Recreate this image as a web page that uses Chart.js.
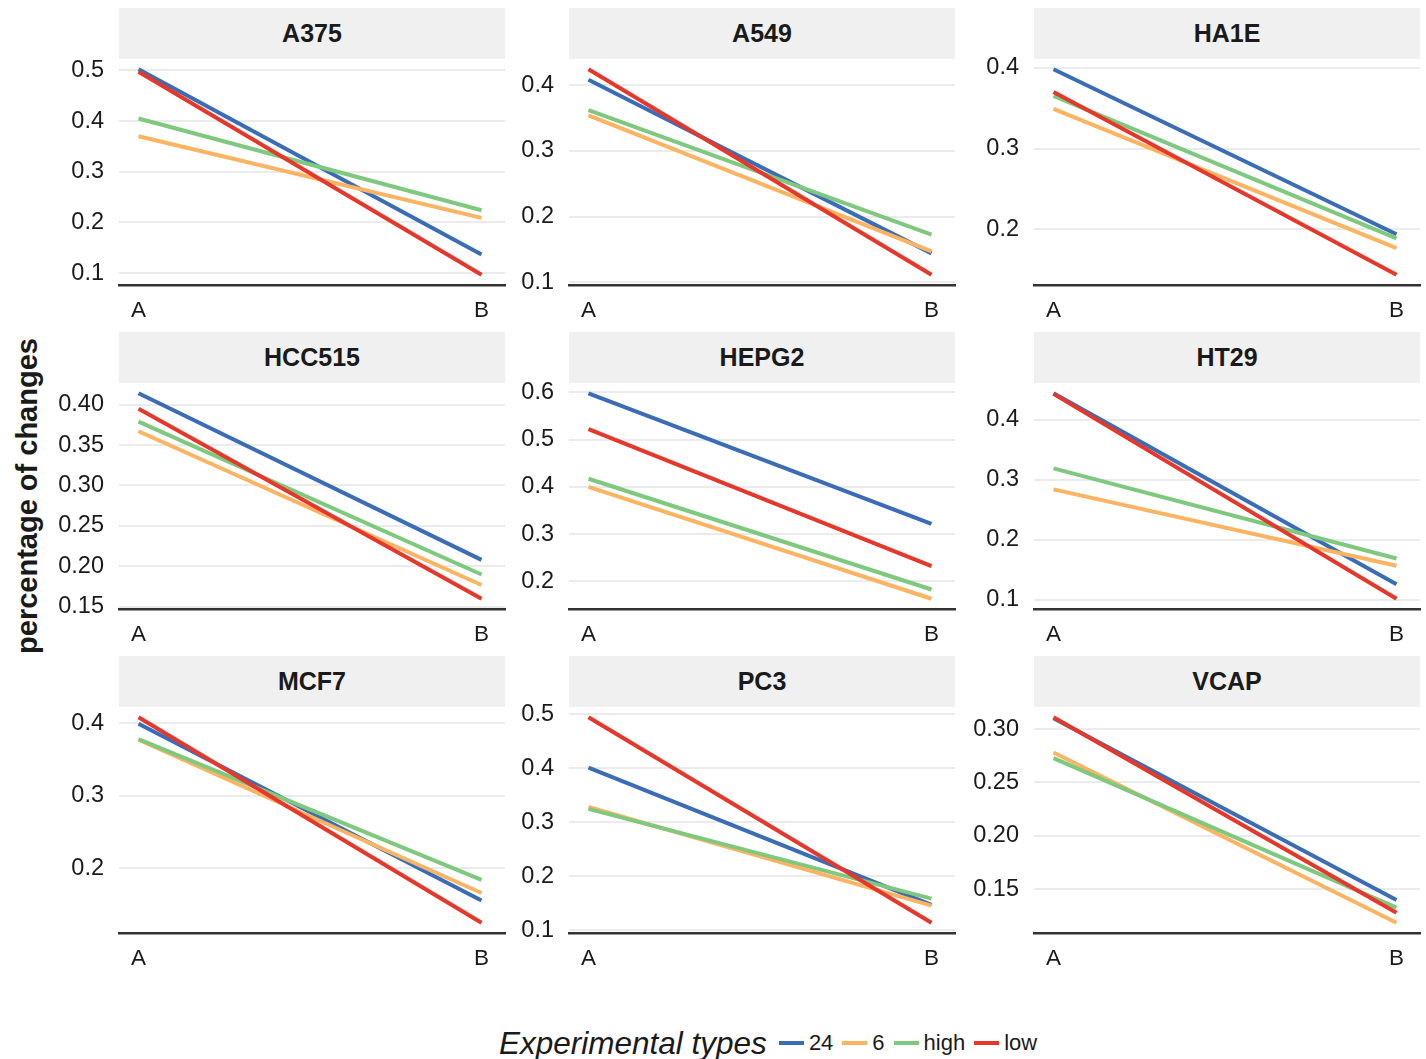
<!DOCTYPE html>
<html>
<head>
<meta charset="utf-8">
<title>percentage of changes</title>
<script src="https://cdn.jsdelivr.net/npm/chart.js@4.4.1/dist/chart.umd.min.js"></script>
<style>
    body {
        margin: 0;
        width: 1426px;
        height: 1059px;
        overflow: hidden;
        position: relative;
        background: #fff;
        font-family: 'Liberation Sans', Arial, Helvetica, sans-serif;
        color: #1a1a1a;
    }
    canvas { position: absolute; }
    .strip {
        position: absolute;
        background: #f0f0f0;
        font-weight: bold;
        font-size: 25px;
        text-align: center;
    }
    #y-title {
        position: absolute;
        left: 27px;
        top: 496px;
        transform: translate(-50%, -50%) rotate(-90deg);
        white-space: nowrap;
        font-weight: bold;
        font-size: 29px;
    }
    #legend {
        position: absolute;
        left: 499px;
        top: 1022px;
        height: 42px;
        display: flex;
        align-items: center;
        white-space: nowrap;
    }
    #legend .title { font-style: italic; font-size: 31.5px; margin-right: 12px; }
    #legend .key { width: 25px; height: 4px; margin-right: 5px; }
    #legend .label { font-size: 22px; margin-right: 9px; }
</style>
</head>
<body>
<div id="y-title">percentage of changes</div>
<div id="legend"><span class="title">Experimental types</span></div>
<script>
// Panels, x categories and series
const cellLines = ['A375', 'A549', 'HA1E', 'HCC515', 'HEPG2', 'HT29', 'MCF7', 'PC3', 'VCAP'];
const xCategories = ['A', 'B'];
const seriesNames = ['24', '6', 'high', 'low'];
const seriesColors = ['#3a6db5', '#fdb462', '#7fc97f', '#e7372a'];

// Values [A, B] per cell line, one array per experimental type
const values24 = [
    [0.502, 0.137], [0.408, 0.144], [0.398, 0.194], [0.414, 0.208], [0.598, 0.3215],
    [0.444, 0.126], [0.399, 0.1555], [0.401, 0.147], [0.310, 0.140]
];
const values6 = [
    [0.370, 0.209], [0.354, 0.147], [0.349, 0.177], [0.367, 0.177], [0.400, 0.163],
    [0.284, 0.157], [0.377, 0.166], [0.328, 0.1456], [0.278, 0.1187]
];
const valuesHigh = [
    [0.405, 0.224], [0.362, 0.1725], [0.365, 0.189], [0.379, 0.190], [0.417, 0.1825],
    [0.319, 0.169], [0.378, 0.184], [0.3246, 0.1585], [0.2728, 0.1328]
];
const valuesLow = [
    [0.497, 0.097], [0.424, 0.1115], [0.370, 0.144], [0.395, 0.160], [0.522, 0.232],
    [0.443, 0.102], [0.408, 0.125], [0.494, 0.114], [0.311, 0.128]
];
const seriesValues = [values24, values6, valuesHigh, valuesLow];

// Y tick labels per panel
const yTicks = [
    [0.1, 0.2, 0.3, 0.4, 0.5],
    [0.1, 0.2, 0.3, 0.4],
    [0.2, 0.3, 0.4],
    [0.15, 0.20, 0.25, 0.30, 0.35, 0.40],
    [0.2, 0.3, 0.4, 0.5, 0.6],
    [0.1, 0.2, 0.3, 0.4],
    [0.2, 0.3, 0.4],
    [0.1, 0.2, 0.3, 0.4, 0.5],
    [0.15, 0.20, 0.25, 0.30]
];
const yDecimals = [1, 1, 1, 2, 1, 1, 1, 1, 2];

// Layout of the facet grid
const colLeft = [119, 569, 1034];
const rowTop = [8, 332, 656];
const panelW = 386;
const stripH = 51;
const plotH = 226;
const axisW = 75;
const axisH = 45;
const padTop = 15;
const padRight = 10;
const fontFamily = "'Liberation Sans', Arial, Helvetica, sans-serif";

// Build the legend from the series
const legend = document.getElementById('legend');
seriesNames.forEach(function(name, k) {
    const key = document.createElement('span');
    key.className = 'key';
    key.style.background = seriesColors[k];
    legend.appendChild(key);
    const label = document.createElement('span');
    label.className = 'label';
    label.textContent = name;
    legend.appendChild(label);
});

cellLines.forEach(function(cell, i) {
    const col = i % 3;
    const row = Math.floor(i / 3);
    const left = colLeft[col];
    const top = rowTop[row] + stripH;

    // Facet strip
    const strip = document.createElement('div');
    strip.className = 'strip';
    strip.style.left = left + 'px';
    strip.style.top = rowTop[row] + 'px';
    strip.style.width = panelW + 'px';
    strip.style.height = stripH + 'px';
    strip.style.lineHeight = stripH + 'px';
    strip.textContent = cell;
    document.body.appendChild(strip);

    // Canvas sized so that the chart area lands on the panel
    const canvas = document.createElement('canvas');
    canvas.width = axisW + panelW + padRight;
    canvas.height = padTop + plotH + axisH;
    canvas.style.left = (left - axisW) + 'px';
    canvas.style.top = (top - padTop) + 'px';
    document.body.appendChild(canvas);

    // Y range with 5% expansion on each side
    let all = [];
    seriesValues.forEach(function(s) { all = all.concat(s[i]); });
    const lo = Math.min.apply(null, all);
    const hi = Math.max.apply(null, all);
    const expand = (hi - lo) * 0.05;

    const datasets = seriesNames.map(function(name, k) {
        return {
            label: name,
            data: seriesValues[k][i].map(function(v, j) { return { x: j + 1, y: v }; }),
            borderColor: seriesColors[k],
            borderWidth: 4,
            pointRadius: 0,
            fill: false,
            tension: 0,
            order: seriesNames.length - 1 - k
        };
    });

    new Chart(canvas, {
        type: 'line',
        data: { datasets: datasets },
        options: {
            responsive: false,
            animation: false,
            devicePixelRatio: 1,
            layout: { padding: { top: padTop, right: padRight, left: 0, bottom: 0 } },
            plugins: {
                legend: { display: false },
                tooltip: { enabled: false }
            },
            scales: {
                x: {
                    type: 'linear',
                    min: 1 - 19.5 / 343,
                    max: 2 + 23.5 / 343,
                    afterBuildTicks: function(scale) {
                        scale.ticks = xCategories.map(function(c, j) { return { value: j + 1 }; });
                    },
                    afterFit: function(scale) {
                        scale.height = axisH;
                        scale.paddingLeft = 0;
                        scale.paddingRight = 0;
                    },
                    ticks: {
                        padding: 12,
                        color: '#1a1a1a',
                        font: { family: fontFamily, size: 22.5 },
                        maxRotation: 0,
                        callback: function(value) { return xCategories[value - 1]; }
                    },
                    grid: { display: false, drawTicks: false },
                    border: { display: true, color: '#333333', width: 2.5 }
                },
                y: {
                    type: 'linear',
                    min: lo - expand,
                    max: hi + expand,
                    afterBuildTicks: function(scale) {
                        scale.ticks = yTicks[i].map(function(v) { return { value: v }; });
                    },
                    afterFit: function(scale) {
                        scale.width = axisW;
                        scale.paddingTop = 0;
                        scale.paddingBottom = 0;
                    },
                    ticks: {
                        padding: 15,
                        color: '#1a1a1a',
                        font: { family: fontFamily, size: 23.5 },
                        callback: function(value) { return value.toFixed(yDecimals[i]); }
                    },
                    grid: { color: '#ebebeb', lineWidth: 2, drawTicks: false },
                    border: { display: false }
                }
            }
        }
    });
});
</script>
</body>
</html>
